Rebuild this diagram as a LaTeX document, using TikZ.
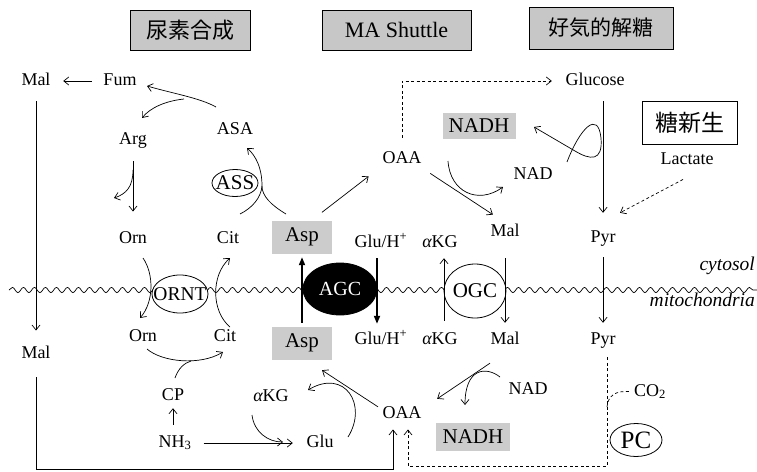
\documentclass[tikz,border=0pt]{standalone}
\usepackage{fontspec}
\setmainfont{Liberation Serif}
\newfontfamily\jpfont{Noto Sans CJK JP}
\usetikzlibrary{arrows.meta,decorations.pathmorphing,shapes.geometric,calc}
\begin{document}
\begin{tikzpicture}[x=1pt,y=-1pt,
  lbl/.style={inner sep=1pt, font=\fontsize{18}{21}\selectfont, text height=12.5pt, text depth=4pt},
  gbox/.style={fill=black!20, inner sep=0pt, font=\fontsize{21}{24}\selectfont},
  hdr/.style={draw, line width=0.9pt, fill=black!22, inner sep=0pt, minimum height=40pt},
  ov/.style={ellipse, draw, line width=0.8pt, fill=white, inner sep=0pt},
  arr/.style={line width=0.7pt, -{Straight Barb[length=5pt,width=8pt]}},
  ln/.style={line width=0.7pt},
  darr/.style={arr, dash pattern=on 3pt off 2.5pt},
  dln/.style={ln, dash pattern=on 3pt off 2.5pt},
  thk/.style={line width=1.8pt, -{Triangle[length=8pt,width=6pt]}}]
\useasboundingbox (0,0) rectangle (757,471);

% headers
\node[hdr, minimum width=120pt] (h1) at (190,30) {\jpfont\fontsize{22}{24}\selectfont 尿素合成};
\node[hdr, minimum width=149pt] (h2) at (396.5,30) {\fontsize{22}{24}\selectfont MA Shuttle};
\node[hdr, minimum width=144pt, minimum height=42pt] (h3) at (601,28) {\jpfont\fontsize{21}{24}\selectfont 好気的解糖};
\node[draw, line width=0.9pt, fill=white, minimum width=95pt, minimum height=43pt, inner sep=0pt] (gng) at (690,123) {\jpfont\fontsize{23}{26}\selectfont 糖新生};

% membrane
\coordinate (mL) at (9,290);
\coordinate (mR) at (757,290);
\draw[ln, decorate, decoration={snake, segment length=11pt, amplitude=2.6pt}] (mL) -- (mR);

% cytosol labels
\node[lbl] (malC) at (36,81) {Mal};
\node[lbl] (fum) at (120,81) {Fum};
\node[lbl] (glucose) at (595,81) {Glucose};
\node[lbl] (asa) at (235,130) {ASA};
\node[lbl] (arg) at (133,140) {Arg};
\node[lbl] (ornC) at (133,239) {Orn};
\node[lbl] (citC) at (228,239) {Cit};
\node[lbl] (gluC) at (381,243) {Glu/H\textsuperscript{+}};
\node[lbl] (akgC) at (440,243) {{\itshape α}KG};
\node[lbl] (malC2) at (505,232) {Mal};
\node[lbl] (pyrC) at (603,238) {Pyr};
\node[lbl] (oaaC) at (402,159) {OAA};
\node[lbl] (nadC) at (533,175) {NAD};
\node[lbl] (lactate) at (687,160) {Lactate};
\node[gbox, minimum width=60pt, minimum height=33pt] (aspC) at (302,237) {Asp};
\node[gbox, minimum width=73pt, minimum height=26pt] (nadhC) at (479,126) {NADH};
\node[ov, minimum width=46pt, minimum height=27pt, font=\fontsize{21}{24}\selectfont] (ass) at (235,183) {\makebox[0pt]{ASS}};

% mitochondria labels
\node[lbl] (malM) at (36,354) {Mal};
\node[lbl] (ornM) at (143,337) {Orn};
\node[lbl] (citM) at (225,337) {Cit};
\node[lbl] (gluM) at (381,340) {Glu/H\textsuperscript{+}};
\node[lbl] (akgM) at (440,340) {{\itshape α}KG};
\node[lbl] (malM2) at (505,340) {Mal};
\node[lbl] (pyrM) at (603,340) {Pyr};
\node[lbl] (cp) at (173,396) {CP};
\node[lbl] (nh3) at (175,443) {NH\textsubscript{3}};
\node[lbl] (gluM2) at (320,443) {Glu};
\node[lbl] (akgM2) at (271,397) {{\itshape α}KG};
\node[lbl] (oaaM) at (402,414) {OAA};
\node[lbl] (nadM) at (528,390) {NAD};
\node[lbl] (co2) at (650,392) {CO\textsubscript{2}};
\node[gbox, minimum width=60pt, minimum height=33pt] (aspM) at (302,343) {Asp};
\node[gbox, minimum width=74pt, minimum height=28pt] (nadhM) at (473,437) {NADH};
\node[ov, minimum width=52pt, minimum height=33pt, font=\fontsize{25}{28}\selectfont] (pc) at (636,440) {\makebox[0pt]{PC}};

% transporters
\node[ov, minimum width=56pt, minimum height=38pt, font=\fontsize{19.5}{22}\selectfont] (ornt) at (180,294) {\makebox[0pt]{ORNT}};
\node[ov, fill=black, minimum width=74pt, minimum height=52pt, text=white, font=\fontsize{20}{23}\selectfont] (agc) at (340,289) {\makebox[0pt]{AGC}};
\node[ov, minimum width=62pt, minimum height=54pt, font=\fontsize{21}{24}\selectfont] (ogc) at (475,291) {\makebox[0pt]{OGC}};

\node[lbl, anchor=east, font=\itshape\fontsize{19.5}{22}\selectfont] (cyt) at (756,266) {cytosol};
\node[lbl, anchor=east, font=\itshape\fontsize{19.5}{22}\selectfont] (mit) at (756,302) {mitochondria};

% left column
\draw[arr, shorten <=10.5pt, shorten >=11.5pt] (fum.west) -- (malC.east);
\draw[arr, shorten <=10.75pt, shorten >=14pt] (malC.south) -- (malM.north);
\coordinate (br) at (393,469);
\draw[arr, shorten >=6pt] ([yshift=-14pt]malM.south) |- (br) -- (br |- oaaM.south);

% pyruvate carboxylase route
\coordinate (dr) at (408,466);
\draw[darr, shorten >=6pt] ([xshift=4pt,yshift=-8pt]pyrM.south) |- (dr) -- (dr |- oaaM.south);
\coordinate (co2j) at (607,407);
\draw[dln, shorten >=2pt] (co2j) .. controls (608,396) and (615,390) .. (co2.west);

% gluconeogenesis / glycolysis
\draw[darr, shorten >=12.5pt] ([yshift=11.75pt]oaaC.north) |- (glucose.west);
\draw[arr, shorten <=10.75pt, shorten >=15.75pt] (glucose.south -| pyrC.north) -- (pyrC.north);
\draw[darr] ([xshift=-4pt,yshift=-10pt]lactate.south) -- ([xshift=17pt,yshift=15.75pt]pyrC.north);
\coordinate (sq1) at (567,162);
\coordinate (sq2) at (534,127);
\draw[arr] (sq1) .. controls (580,128) and (598,110) .. (601,138) .. controls (603,162) and (590,160) .. (575,151) -- (sq2);

% membrane crossings
\draw[arr, shorten <=9.75pt, shorten >=7.75pt] (pyrC.south) -- (pyrM.north);
\draw[arr, shorten <=16.75pt, shorten >=7.75pt] (malC2.south) -- (malM2.north);
\draw[arr, shorten <=9.75pt, shorten >=5.75pt] ([xshift=4pt]akgM.north) -- ([xshift=4pt]akgC.south);
\draw[thk, shorten <=3.5pt, shorten >=3.5pt] (aspM.north) -- (aspC.south);
\draw[thk, shorten <=5.75pt, shorten >=6.75pt] ([xshift=-4pt]gluC.south) -- ([xshift=-4pt]gluM.north);

% MA shuttle cytosol
\draw[arr, shorten <=13pt, shorten >=16pt] (aspC.60) -- (oaaC.200);
\draw[arr, shorten <=9pt, shorten >=14.5pt] (oaaC.south east) -- (malC2.north);
\coordinate (k1) at (448,161);
\coordinate (k2) at (503,187);
\draw[arr] (k1) .. controls (450,192) and (478,205) .. (k2);

% urea cycle cytosol
\coordinate (a1) at (216,107);
\coordinate (a2) at (147,86);
\coordinate (a3) at (184,99);
\coordinate (a4) at (142,118);
\draw[arr] (a1) .. controls (200,98) and (175,94) .. (a2);
\draw[arr] (a3) .. controls (165,101) and (150,108) .. (a4);
\draw[arr, shorten <=11.75pt, shorten >=18pt] (arg.south) -- (ornC.north);
\coordinate (g1) at (133,170);
\coordinate (g2) at (114,198);
\draw[arr] (g1) .. controls (133,187) and (126,194) .. (g2);
\coordinate (c1) at (240,214);
\coordinate (cj) at (262,186);
\coordinate (c2) at (286,214);
\coordinate (c3) at (247,148);
\draw[ln] (c1) .. controls (252,208) and (261,198) .. (cj);
\draw[arr] (c2) .. controls (271,205) and (262,196) .. (cj) .. controls (262,168) and (256,156) .. (c3);

% ORNT arcs
\coordinate (o1) at (143,258);
\coordinate (o2) at (140,318);
\draw[arr] (o1) .. controls (154,274) and (154,302) .. (o2);
\coordinate (o3) at (230,327);
\coordinate (o4) at (230,258);
\draw[arr] (o3) .. controls (211,311) and (211,275) .. (o4);

% urea cycle mitochondria
\coordinate (m1) at (147,349);
\coordinate (m2) at (223,352);
\coordinate (mj) at (191,361);
\draw[arr] (m1) .. controls (162,362) and (200,366) .. (m2);
\coordinate (cp1) at (175,378);
\draw[ln] (cp1) .. controls (178,369) and (184,363) .. (mj);
\draw[arr, shorten <=8.75pt, shorten >=2.75pt] (nh3.north -| cp.south) -- (cp.south);
\draw[arr, shorten <=11pt, shorten >=12.5pt] (nh3.east) -- (gluM2.west);
\coordinate (q1) at (252,415);
\coordinate (q2) at (283,442);
\draw[arr] (q1) .. controls (254,432) and (268,442) .. (q2);
\coordinate (r1) at (348,437);
\coordinate (r2) at (308,390);
\draw[arr] (r1) .. controls (368,405) and (345,368) .. (r2);

% MA shuttle mitochondria
\draw[arr, shorten <=4pt] ([yshift=5pt]oaaM.west) -- ([xshift=20pt,yshift=-10.5pt]aspM.south);
\draw[arr] ([xshift=-15pt,yshift=-13.75pt]malM2.south) -- ([xshift=14.5pt,yshift=5.75pt]oaaM.north east);
\coordinate (n1) at (500,377);
\coordinate (n2) at (465,405);
\draw[arr] (n1) .. controls (486,366) and (465,368) .. (n2);
\end{tikzpicture}
\end{document}
